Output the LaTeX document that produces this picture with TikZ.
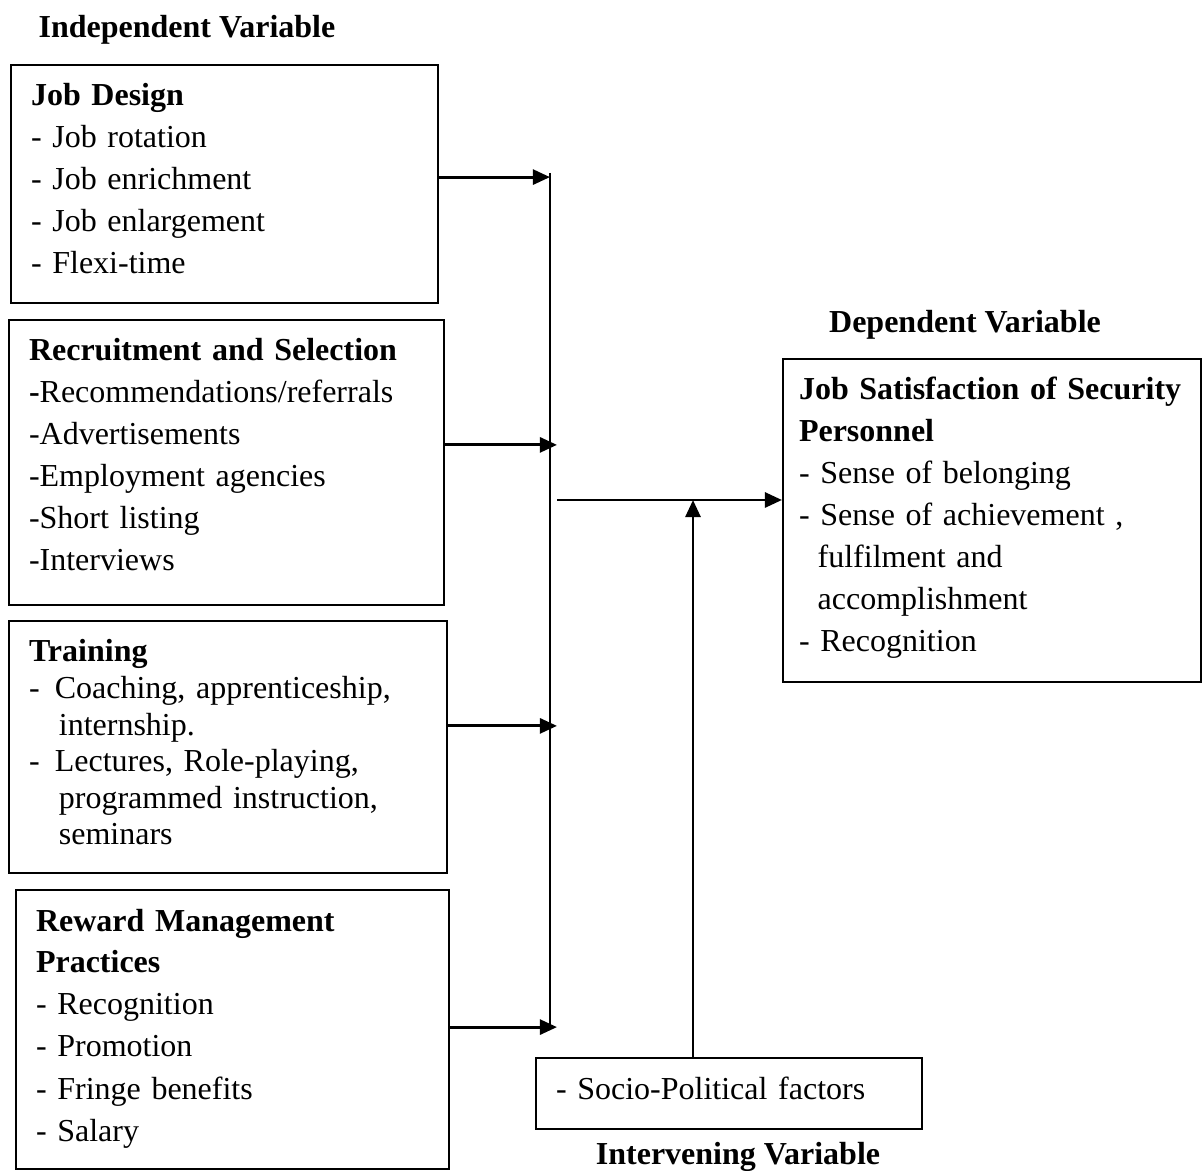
\documentclass[tikz,border=0pt]{standalone}
\usepackage{fontspec}
\setmainfont{Liberation Serif}
\usetikzlibrary{arrows.meta, calc}

\begin{document}
\begin{tikzpicture}[
    x=0.375pt, y=-0.375pt,
    varbox/.style={rectangle, draw, line width=0.75pt, anchor=north west, align=left,
        inner xsep=7.5pt, inner ysep=1.5pt, text height=13.875pt,
        font=\fontsize{12}{15.75}\selectfont},
    heading/.style={font=\fontsize{12}{15.75}\selectfont\bfseries, inner sep=0pt},
    arrow/.style={-{Triangle[length=6.4pt,width=5.6pt]}, line width=1.1pt},
    bus/.style={line width=0.75pt}
]
\useasboundingbox (0,0) rectangle (1203,1171);

    % Independent variables
    \node[heading] (indep) at (187,30) {Independent Variable};

    \node[varbox, text width=145.1pt, text depth=72.4pt] (design) at (10,64) {
        \textbf{Job Design}\\
        - Job rotation\\
        - Job enrichment\\
        - Job enlargement\\
        - Flexi-time};

    \node[varbox, text width=148.1pt, text depth=90pt] (recruit) at (8,319) {
        \textbf{Recruitment and Selection}\\
        \textbf{-}Recommendations/referrals\\
        -Advertisements\\
        -Employment agencies\\
        -Short listing\\
        -Interviews};

    \node[varbox, text width=149.25pt, text depth=77.6pt,
        font=\fontsize{12}{13.7}\selectfont] (training) at (8,620) {
        \textbf{Training}\\
        - \hspace{1.7pt}Coaching, apprenticeship,\\
        \hspace*{11.2pt}internship.\\
        - \hspace{1.7pt}Lectures, Role-playing,\\
        \hspace*{11.2pt}programmed instruction,\\
        \hspace*{11.2pt}seminars};

    \node[varbox, text width=147.4pt, text depth=87.75pt] (reward) at (15,889) {
        \textbf{Reward Management}\\
        \textbf{Practices}\\
        - Recognition\\
        - Promotion\\
        - Fringe benefits\\
        - Salary};

    % Dependent variable
    \node[heading] (dep) at (965,325) {Dependent Variable};

    \node[varbox, text width=144.75pt, inner xsep=6pt, text depth=104.25pt] (target) at (782,358) {
        \textbf{Job Satisfaction of Security}\\
        \textbf{Personnel}\\
        - Sense of belonging\\
        - Sense of achievement ,\\
        \hspace*{7pt}fulfilment and\\
        \hspace*{7pt}accomplishment\\
        - Recognition};

    % Intervening variable
    \node[varbox, text width=129.75pt, text depth=9.75pt] (socio) at (535,1057) {- Socio-Political factors};
    \node[heading] (interv) at (738,1157) {Intervening Variable};

    % Connectors
    \coordinate (bustop) at (550,173);
    \coordinate (busbot) at (550,1030);
    \coordinate (join) at (557,500);

    \draw[bus] (bustop) -- (busbot);
    \draw[arrow] ([yshift=2.6pt]design.east) -- ([yshift=2.6pt]design.east -| bustop);
    \draw[arrow] ([yshift=6.6pt]recruit.east) -- ([yshift=6.6pt]recruit.east -| join);
    \draw[arrow] ([yshift=7.9pt]training.east) -- ([yshift=7.9pt]training.east -| join);
    \draw[arrow] ([yshift=0.9pt]reward.east) -- ([yshift=0.9pt]reward.east -| join);
    \draw[arrow] (join) -- (join -| target.west);
    \draw[arrow] ([xshift=-13.5pt]socio.north) -- ([xshift=-13.5pt]socio.north |- join);

\end{tikzpicture}
\end{document}
